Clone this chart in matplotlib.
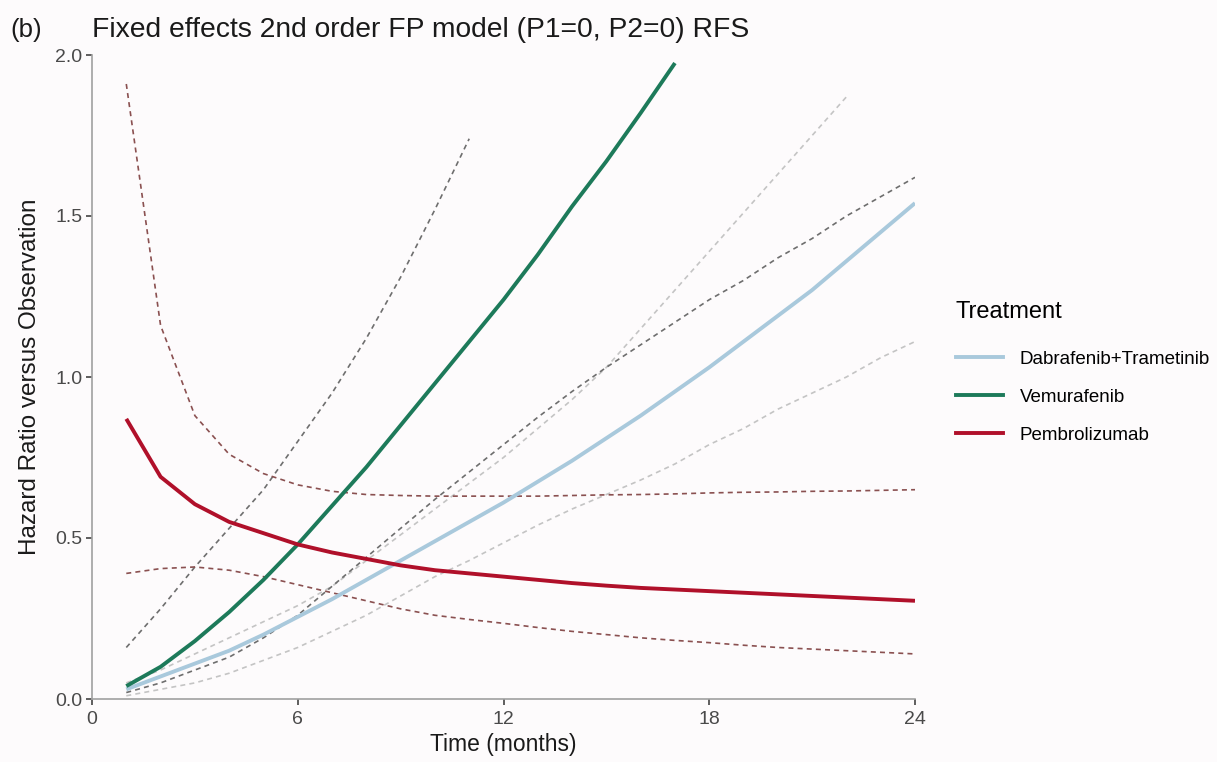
import matplotlib
matplotlib.use("Agg")
import matplotlib.pyplot as plt
from matplotlib.lines import Line2D

plt.rcParams['font.family'] = ['Liberation Sans', 'DejaVu Sans']

# months (integer grid of the model predictions)
months = list(range(1, 25))

# Dabrafenib+Trametinib
dab_hr = [0.03, 0.07, 0.11, 0.15, 0.20, 0.255, 0.31, 0.37, 0.43, 0.49, 0.55, 0.61,
          0.675, 0.74, 0.81, 0.88, 0.955, 1.03, 1.11, 1.19, 1.27, 1.36, 1.45, 1.54]
dab_upper = [0.05, 0.09, 0.14, 0.19, 0.24, 0.29, 0.35, 0.43, 0.51, 0.59, 0.67, 0.75,
             0.84, 0.93, 1.03, 1.15, 1.27, 1.39, 1.51, 1.63, 1.75, 1.87]
dab_lower = [0.01, 0.03, 0.05, 0.08, 0.12, 0.16, 0.21, 0.26, 0.32, 0.38, 0.43, 0.485,
             0.54, 0.59, 0.635, 0.68, 0.73, 0.79, 0.84, 0.90, 0.95, 1.00, 1.06, 1.11]

# Vemurafenib
vem_hr = [0.04, 0.10, 0.18, 0.27, 0.37, 0.48, 0.60, 0.72, 0.85, 0.98, 1.11, 1.24,
          1.38, 1.53, 1.67, 1.82, 1.975]
vem_upper = [0.16, 0.28, 0.41, 0.53, 0.65, 0.80, 0.95, 1.12, 1.31, 1.52, 1.74]
vem_lower = [0.02, 0.05, 0.09, 0.13, 0.19, 0.26, 0.35, 0.44, 0.53, 0.62, 0.705, 0.79,
             0.875, 0.955, 1.03, 1.10, 1.17, 1.24, 1.30, 1.37, 1.43, 1.50, 1.56, 1.62]

# Pembrolizumab
pem_hr = [0.87, 0.69, 0.605, 0.55, 0.515, 0.48, 0.455, 0.435, 0.415, 0.40, 0.39, 0.38,
          0.37, 0.36, 0.352, 0.345, 0.34, 0.335, 0.33, 0.325, 0.32, 0.315, 0.31, 0.305]
pem_upper = [1.91, 1.16, 0.88, 0.76, 0.70, 0.665, 0.645, 0.635, 0.632, 0.63, 0.63, 0.63,
             0.63, 0.632, 0.634, 0.635, 0.637, 0.64, 0.642, 0.643, 0.645, 0.646, 0.648, 0.65]
pem_lower = [0.39, 0.405, 0.41, 0.40, 0.38, 0.355, 0.33, 0.305, 0.28, 0.26, 0.247, 0.235,
             0.222, 0.21, 0.2, 0.19, 0.182, 0.175, 0.167, 0.16, 0.155, 0.15, 0.145, 0.14]

treatments = ["Dabrafenib+Trametinib", "Vemurafenib", "Pembrolizumab"]
colors = ["#a9c9dc", "#1d7a5a", "#b0102a"]
ci_colors = ["#c4c4c4", "#6e6e6e", "#8a5050"]

bg = "#fdfbfc"
fig = plt.figure(figsize=(12.17, 7.62), dpi=100, facecolor=bg)
ax = fig.add_axes([92 / 1217, 63 / 762, 823 / 1217, 644 / 762], facecolor=bg)

series = [(dab_hr, dab_upper, dab_lower), (vem_hr, vem_upper, vem_lower),
          (pem_hr, pem_upper, pem_lower)]
for (hr, up, lo), c, cc in zip(series, colors, ci_colors):
    ax.plot(months[:len(up)], up, color=cc, lw=1.2, ls=(0, (3, 2.5)), zorder=2)
    ax.plot(months[:len(lo)], lo, color=cc, lw=1.2, ls=(0, (3, 2.5)), zorder=2)
for (hr, up, lo), c in zip(series, colors):
    ax.plot(months[:len(hr)], hr, color=c, lw=2.8, zorder=3, solid_capstyle='butt')

ax.set_xlim(0, 24)
ax.set_ylim(0, 2)
ax.set_xticks([0, 6, 12, 18, 24])
ax.set_yticks([0, 0.5, 1.0, 1.5, 2.0])
ax.set_yticklabels(["0.0", "0.5", "1.0", "1.5", "2.0"])
for s in ["top", "right"]:
    ax.spines[s].set_visible(False)
for s in ["left", "bottom"]:
    ax.spines[s].set_color("#a0a0a0")
    ax.spines[s].set_linewidth(1.2)
ax.tick_params(length=4, width=1.1, color="#333333", labelsize=14,
               labelcolor="#4a4a4a", pad=3)
ax.tick_params(axis="x", pad=5)

ax.set_xlabel("Time (months)", fontsize=16.5, color="#1a1a1a", labelpad=3)
ax.set_ylabel("Hazard Ratio versus Observation", fontsize=17.5, color="#1a1a1a",
              labelpad=10)

fig.text(10 / 1217, 1 - 30 / 762, "(b)", fontsize=18.5, va="center", ha="left",
         color="#1a1a1a")
fig.text(92 / 1217, 1 - 30 / 762, "Fixed effects 2nd order FP model (P1=0, P2=0) RFS",
         fontsize=20.3, va="center", ha="left", color="#1a1a1a")

handles = [Line2D([], [], color=c, lw=2.8) for c in colors]
leg = fig.legend(handles, treatments, title="Treatment", loc="upper left",
                 bbox_to_anchor=(939 / 1217, 1 - 284 / 762), frameon=False,
                 fontsize=13.5, title_fontsize=17, handlelength=2.5,
                 labelspacing=1.12, handletextpad=0.9, borderpad=0.4)
leg._legend_box.align = "left"
leg._legend_box.sep = 20

fig.savefig("out.png", dpi=100, facecolor=bg)
